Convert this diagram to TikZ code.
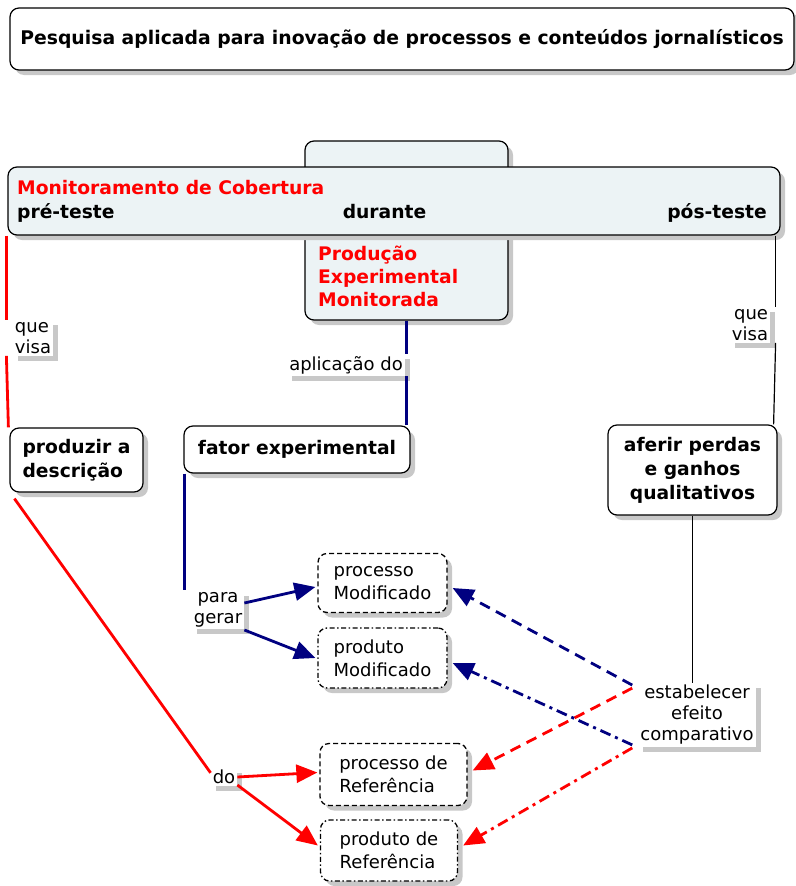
\documentclass[tikz,border=0pt]{standalone}
\usepackage{fontspec}
\setmainfont{DejaVu Sans}
\usepackage{xcolor}
\usepackage{tikz}
\usetikzlibrary{arrows.meta, positioning, shadows}
\definecolor{mapred}{RGB}{255, 0, 0}
\definecolor{mapnavy}{RGB}{0, 0, 128}
\definecolor{hubfill}{RGB}{236, 243, 245}
\definecolor{shadowgray}{RGB}{200, 200, 200}

\begin{document}
\begin{tikzpicture}[x=1pt, y=-1pt,
    shade/.style={drop shadow={shadow xshift=5pt, shadow yshift=-5pt,
                  fill=shadowgray, opacity=1}},
    concept/.style={rectangle, rounded corners=9pt, draw=black, line width=1.2pt,
                    fill=white, inner sep=3pt, align=center, shade,
                    font=\fontsize{18.7}{24}\selectfont\bfseries},
    hub/.style={concept, fill=hubfill},
    hubtext/.style={inner sep=0pt, font=\fontsize{18.7}{23}\selectfont\bfseries},
    result/.style={concept, line width=1.3pt, align=left,
                   font=\fontsize{18}{23}\selectfont},
    dashbox/.style={result, dash pattern=on 5pt off 3pt},
    dotbox/.style={result, dash pattern=on 5pt off 2.5pt on 1.5pt off 2.5pt},
    link/.style={fill=white, inner sep=2pt, shade,
                 font=\fontsize{18}{21}\selectfont},
    redline/.style={mapred, line width=2.8pt},
    navyline/.style={mapnavy, line width=2.8pt},
    blackline/.style={black, line width=1.2pt},
    tip/.style={-{Triangle[length=21pt, width=18pt]}},
]
\useasboundingbox (0,0) rectangle (795,886);

% Title
\node[concept, minimum width=784pt, minimum height=62pt,
      font=\fontsize{18.8}{22}\selectfont\bfseries] (title) at (402,39)
    {Pesquisa aplicada para inovação de processos e conteúdos jornalísticos};

% Hubs
\node[hub, minimum width=203pt, minimum height=179pt] (prodbox) at (406.5,230.5) {};
\node[hub, minimum width=772pt, minimum height=68pt] (wide) at (394,201) {};
\node[hubtext, text=mapred, anchor=base west] (montxt) at (17,194) {Monitoramento de Cobertura};
\node[hubtext, anchor=base west] (pretxt) at (17,218) {pré-teste};
\node[hubtext, anchor=base] (durtxt) at (384.5,218) {durante};
\node[hubtext, anchor=base east] (postxt) at (767,218) {pós-teste};
\node[hubtext, text=mapred, align=left, anchor=north west] (prodtxt) at (318,246)
    {Produção\\Experimental\\Monitorada};

% Concepts
\node[concept, align=left, minimum width=133pt, minimum height=64pt] (desc) at (76.5,460)
    {produzir a\\descrição};
\node[concept, minimum width=226pt, minimum height=47pt] (fator) at (297,449.5)
    {fator experimental};
\node[concept, minimum width=169pt, minimum height=90pt] (aferir) at (692.5,470)
    {aferir perdas\\e ganhos\\qualitativos};

% Results
\node[dashbox, minimum width=129pt, minimum height=59pt] (procmod) at (382.5,583)
    {processo\\Modificado};
\node[dotbox, minimum width=129pt, minimum height=60pt] (prodmod) at (382.5,658)
    {produto\\Modificado};
\node[dashbox, minimum width=147pt, minimum height=62pt] (procref) at (393.5,774.5)
    {processo de\\Referência};
\node[dotbox, minimum width=137pt, minimum height=61pt] (prodref) at (389,850.5)
    {produto de\\Referência};

% Linking phrases
\node[link, align=left] (qv1) at (33,338) {que\\visa};
\node[link] (apl) at (346,365) {aplicação do};
\node[link, align=right] (qv2) at (750,325) {que\\visa};
\node[link, align=center] (pg) at (218,610) {para\\gerar};
\node[link] (do) at (224,777) {do};
\node[link, align=center] (estab) at (697,715) {estabelecer\\efeito\\comparativo};

% Connectors
\draw[redline] ([xshift=-1pt]wide.south west) -- ([xshift=-1pt]wide.south west |- qv1.north);
\draw[redline] ([xshift=-1pt]wide.south west |- qv1.south) -- ([xshift=-1pt]desc.north west);
\draw[navyline] (prodbox.south) -- (prodbox.south |- apl.north);
\draw[navyline] (prodbox.south |- apl.south) -- (prodbox.south |- fator.north);
\draw[blackline] ([xshift=-5pt]wide.south east) -- ([xshift=-5pt]wide.south east |- qv2.north);
\draw[blackline] ([xshift=-5pt]wide.south east |- qv2.south) -- ([xshift=-4pt]aferir.north east);
\draw[navyline] ([xshift=1pt]fator.south west) -- ([xshift=1pt]fator.south west |- pg.north);
\draw[navyline, tip] ([yshift=7pt]pg.east) -- ([xshift=-2pt, yshift=-4pt]procmod.west);
\draw[navyline, tip] ([yshift=-20pt]pg.east) -- ([xshift=-2pt]prodmod.west);
\draw[redline] ([xshift=5pt, yshift=-6pt]desc.south west) -- ([yshift=-5pt]do.north west);
\draw[redline, tip] (do.east) -- ([xshift=-2pt, yshift=2pt]procref.west);
\draw[redline, tip] ([yshift=-8pt]do.east) -- ([xshift=-2pt, yshift=5pt]prodref.west);
\draw[blackline] (aferir.south) -- (aferir.south |- estab.north);
\draw[navyline, tip, dash pattern=on 11pt off 7pt]
    ([xshift=-6pt, yshift=-2pt]estab.north west) -- ([xshift=5pt, yshift=-5pt]procmod.east);
\draw[redline, tip, dash pattern=on 11pt off 7pt]
    ([xshift=-6pt, yshift=-5pt]estab.north west) -- ([xshift=5pt, yshift=4pt]procref.east);
\draw[navyline, tip, dash pattern=on 11pt off 5pt on 3pt off 5pt]
    ([xshift=-6pt, yshift=2pt]estab.south west) -- ([xshift=5pt, yshift=-5pt]prodmod.east);
\draw[redline, tip, dash pattern=on 11pt off 5pt on 3pt off 5pt]
    ([xshift=-6pt, yshift=-1pt]estab.south west) -- ([xshift=5pt, yshift=5pt]prodref.east);

\end{tikzpicture}
\end{document}
